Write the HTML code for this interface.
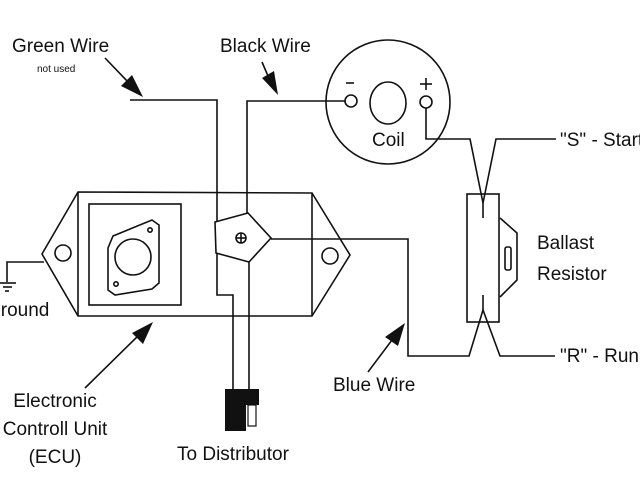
<!DOCTYPE html>
<html><head><meta charset="utf-8"><style>
html,body{margin:0;padding:0;background:#fff;}
svg{display:block;}
text{font-family:"Liberation Sans",sans-serif;fill:#111;}
</style></head><body>
<svg width="640" height="480" viewBox="0 0 640 480" xmlns="http://www.w3.org/2000/svg">
<g fill="none" stroke="#111" stroke-width="1.6">
<!-- ECU body -->
<polygon points="78,192 312,193 350,255 312,316 78,316 42,254"/>
<line x1="78" y1="192" x2="78" y2="316"/>
<line x1="312" y1="193" x2="312" y2="316"/>
<circle cx="63" cy="253" r="8"/>
<circle cx="330" cy="256" r="8"/>
<rect x="89" y="204" width="92" height="101"/>
<polygon points="108,248 113,236 152,220 159,225 159,283 152,289 115,295 108,290"/>
<circle cx="133" cy="257" r="18"/>
<circle cx="150" cy="230" r="2.2"/>
<circle cx="116" cy="284" r="2.2"/>
<!-- pentagon -->
<polygon points="215,222 248,213 271,238 249,262 216,253"/>
<circle cx="241" cy="238" r="5"/>
<line x1="236" y1="238" x2="246" y2="238"/><line x1="241" y1="233" x2="241" y2="243"/>
<!-- ground -->
<polyline points="44,262 7,262 7,282"/>
<line x1="0" y1="283" x2="16" y2="283"/>
<line x1="3" y1="287" x2="12" y2="287"/>
<line x1="5" y1="291" x2="9" y2="291"/>
<!-- green wire -->
<polyline points="130,100 217,100 217,222"/>
<polyline points="217,253 217,295 233,295 233,392"/>
<!-- black wire -->
<polyline points="345,101 247,101 247,213"/>
<line x1="249" y1="262" x2="249" y2="392"/>
<!-- blue wire -->
<polyline points="271,239 408,239 408,356 469,356 483,310 500,356 555,356"/>
<!-- coil -->
<circle cx="388" cy="102" r="62"/>
<ellipse cx="388" cy="103" rx="18" ry="21"/>
<circle cx="351" cy="101" r="6"/>
<circle cx="426" cy="102" r="6"/>
<polyline points="426,108 426,139 470,139 483,203 496,139 556,139"/>
<!-- resistor -->
<rect x="467" y="194" width="32" height="128"/>
<polyline points="500,218 517,233 517,280 500,297"/>
<rect x="505" y="247" width="6" height="23" rx="2"/>
<line x1="483" y1="203" x2="483" y2="218"/>
<line x1="483" y1="295" x2="483" y2="310"/>
<line x1="350" y1="79" x2="350" y2="87" transform="rotate(90 350 83)"/>
<line x1="426" y1="78" x2="426" y2="90"/><line x1="420" y1="84" x2="432" y2="84"/>
<!-- arrows lines -->
<line x1="105" y1="58" x2="130" y2="84"/>
<line x1="262" y1="62" x2="268" y2="76"/>
<line x1="85" y1="388" x2="140" y2="334"/>
<line x1="368" y1="372" x2="392" y2="340"/>
</g>
<g fill="#111">
<polygon points="143,97 121,86 132,75"/>
<polygon points="278,95 262,78 274,71"/>
<polygon points="153,322 132,333 143,344"/>
<polygon points="405,323 385,337 398,346"/>
<!-- connector -->
<rect x="225" y="389" width="21" height="42"/>
<rect x="225" y="389" width="34" height="16"/>
</g>
<rect x="248" y="405" width="8" height="21" fill="#fff" stroke="#111" stroke-width="1.2"/>
<g font-size="19">
<text x="12" y="52">Green Wire</text>
<text x="37" y="72" font-size="10">not used</text>
<text x="220" y="52">Black Wire</text>
<text x="372" y="146">Coil</text>
<text x="-14" y="316">Ground</text>
<text x="55" y="407" text-anchor="middle">Electronic</text>
<text x="55" y="435" text-anchor="middle">Controll Unit</text>
<text x="55" y="463" text-anchor="middle">(ECU)</text>
<text x="177" y="460">To Distributor</text>
<text x="333" y="391">Blue Wire</text>
<text x="537" y="249">Ballast</text>
<text x="537" y="280">Resistor</text>
<text x="560" y="146">"S" - Start</text>
<text x="560" y="362">"R" - Run</text>
</g>
</svg>
</body></html>
